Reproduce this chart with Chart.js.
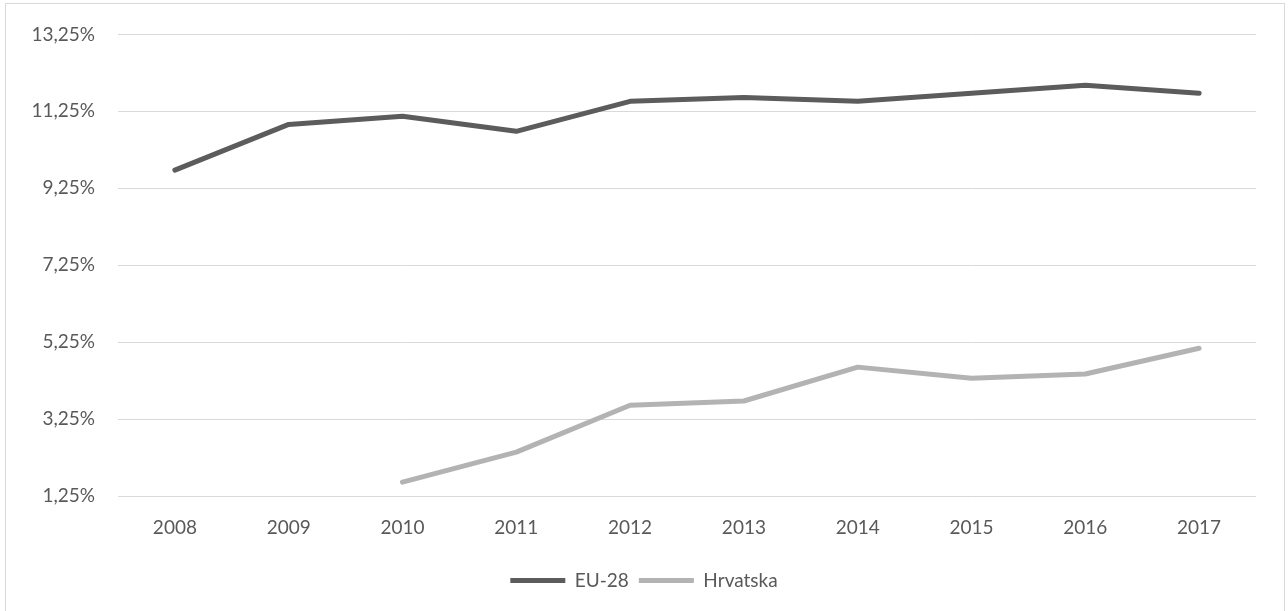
<!DOCTYPE html>
<html>
<head>
<meta charset="utf-8">
<script src="https://cdn.jsdelivr.net/npm/chart.js@4/dist/chart.umd.min.js"></script>
<style>
  html, body { margin: 0; padding: 0; background: #ffffff; }
  #wrap { width: 1288px; height: 611px; position: relative; }
</style>
</head>
<body>
<div id="wrap"><canvas id="c" width="1288" height="611"></canvas></div>
<script>
// Years on the category axis
const years = ['2008', '2009', '2010', '2011', '2012', '2013', '2014', '2015', '2016', '2017'];
// Share values in percent
const eu28 = [9.72, 10.91, 11.12, 10.73, 11.51, 11.61, 11.51, 11.72, 11.93, 11.72];
const hrvatska = [null, null, 1.61, 2.39, 3.61, 3.72, 4.60, 4.31, 4.42, 5.09];
// Value axis ticks
const yTicks = [1.25, 3.25, 5.25, 7.25, 9.25, 11.25, 13.25];

const textColor = '#595959';
const gridColor = '#d9d9d9';
const fontFamily = 'Lato, "Open Sans", sans-serif';
const fontSize = 19;

// Thin frame around the whole chart
const framePlugin = {
  id: 'frame',
  beforeDraw(chart) {
    const ctx = chart.ctx;
    ctx.save();
    ctx.fillStyle = '#ffffff';
    ctx.fillRect(0, 0, chart.width, chart.height);
    ctx.strokeStyle = gridColor;
    ctx.lineWidth = 1;
    ctx.strokeRect(5.5, 3.5, 1279, 700);
    ctx.restore();
  }
};

new Chart(document.getElementById('c'), {
  type: 'line',
  data: {
    labels: years,
    datasets: [
      {
        label: 'EU-28',
        data: eu28,
        borderColor: '#5c5c5c',
        backgroundColor: '#5c5c5c',
        borderWidth: 5,
        borderCapStyle: 'round',
        borderJoinStyle: 'round',
        pointRadius: 0,
        pointHoverRadius: 0,
        tension: 0,
        fill: false
      },
      {
        label: 'Hrvatska',
        data: hrvatska,
        borderColor: '#b3b3b3',
        backgroundColor: '#b3b3b3',
        borderWidth: 5,
        borderCapStyle: 'round',
        borderJoinStyle: 'round',
        pointRadius: 0,
        pointHoverRadius: 0,
        tension: 0,
        fill: false
      }
    ]
  },
  options: {
    responsive: false,
    animation: false,
    devicePixelRatio: 1,
    layout: { padding: { top: 33, right: 0, left: 0, bottom: 11 } },
    plugins: {
      tooltip: { enabled: false },
      legend: {
        position: 'bottom',
        labels: {
          usePointStyle: true,
          pointStyle: 'line',
          pointStyleWidth: 55,
          color: textColor,
          padding: 10,
          font: { family: fontFamily, size: fontSize }
        }
      }
    },
    scales: {
      x: {
        offset: true,
        grid: { display: false, drawTicks: false },
        border: { display: false },
        ticks: {
          color: textColor,
          padding: 20,
          maxRotation: 0,
          font: { family: fontFamily, size: fontSize }
        },
        afterFit(scale) { scale.height = 65; }
      },
      y: {
        min: 1.25,
        max: 13.25,
        grid: { color: gridColor, lineWidth: 1, drawTicks: false },
        border: { display: false },
        afterBuildTicks(scale) { scale.ticks = yTicks.map(v => ({ value: v })); },
        ticks: {
          color: textColor,
          padding: 23,
          font: { family: fontFamily, size: fontSize },
          callback: v => v.toFixed(2).replace('.', ',') + '%'
        },
        afterFit(scale) { scale.width = 118; }
      },
      // empty margin on the right of the plot
      yRight: {
        position: 'right',
        min: 1.25,
        max: 13.25,
        grid: { display: false, drawTicks: false },
        border: { display: false },
        ticks: { display: false },
        afterFit(scale) { scale.width = 32; }
      }
    }
  },
  plugins: [framePlugin]
});
</script>
</body>
</html>
